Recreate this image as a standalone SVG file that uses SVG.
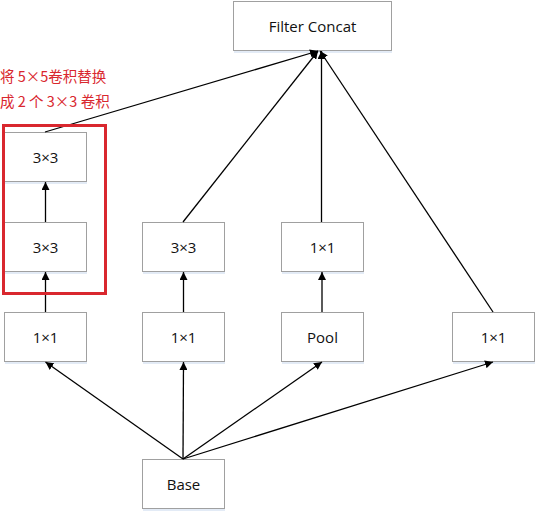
<svg xmlns="http://www.w3.org/2000/svg" width="539" height="515" viewBox="0 0 539 515">
<style>
.box{fill:#fff;stroke:#a0a0a0;stroke-width:1}
.sh{fill:#e3ebf6}
.lbl{font-family:"Open Sans","Liberation Sans",sans-serif;font-size:15px;fill:#111;text-anchor:middle;dominant-baseline:central}
.edge{stroke:#000;stroke-width:1.3;fill:none;marker-end:url(#ah)}
.note{font-family:"Noto Sans CJK SC","Liberation Sans",sans-serif;font-size:14.5px;fill:#d9272e}
</style>
<defs>
<marker id="ah" viewBox="0 0 10 10" refX="10" refY="5" markerWidth="8" markerHeight="8" markerUnits="userSpaceOnUse" orient="auto">
<path d="M0,0 L10,5 L0,10 z" fill="#000"/>
</marker>
</defs>
<rect width="539" height="515" fill="#fff"/>
<g id="n-concat"><rect class="sh" x="234" y="50" width="158" height="3"/><rect class="box" x="233.5" y="1.5" width="158" height="49"/><text class="lbl" x="312.5" y="26">Filter Concat</text></g>
<g id="n-c1-top"><rect class="sh" x="5" y="181" width="82" height="3"/><rect class="box" x="4.5" y="132.5" width="82" height="49"/><text class="lbl" x="45.5" y="157">3×3</text></g>
<g id="n-c1-mid"><rect class="sh" x="5" y="271" width="82" height="3"/><rect class="box" x="4.5" y="222.5" width="82" height="49"/><text class="lbl" x="45.5" y="247">3×3</text></g>
<g id="n-c1-bot"><rect class="sh" x="5" y="361" width="82" height="3"/><rect class="box" x="4.5" y="312.5" width="82" height="49"/><text class="lbl" x="45.5" y="337">1×1</text></g>
<g id="n-c2-top"><rect class="sh" x="143" y="271" width="82" height="3"/><rect class="box" x="142.5" y="222.5" width="82" height="49"/><text class="lbl" x="183.5" y="247">3×3</text></g>
<g id="n-c2-bot"><rect class="sh" x="143" y="361" width="82" height="3"/><rect class="box" x="142.5" y="312.5" width="82" height="49"/><text class="lbl" x="183.5" y="337">1×1</text></g>
<g id="n-c3-top"><rect class="sh" x="282" y="271" width="82" height="3"/><rect class="box" x="281.5" y="222.5" width="82" height="49"/><text class="lbl" x="322.5" y="247">1×1</text></g>
<g id="n-c3-pool"><rect class="sh" x="282" y="361" width="82" height="3"/><rect class="box" x="281.5" y="312.5" width="82" height="49"/><text class="lbl" x="322.5" y="337">Pool</text></g>
<g id="n-c4"><rect class="sh" x="453" y="361" width="82" height="3"/><rect class="box" x="452.5" y="312.5" width="82" height="49"/><text class="lbl" x="493.5" y="337">1×1</text></g>
<g id="n-base"><rect class="sh" x="143" y="508" width="82" height="3"/><rect class="box" x="142.5" y="459.5" width="82" height="49"/><text class="lbl" x="183.5" y="484">Base</text></g>
<g id="connectors">
<line class="edge" x1="183" y1="459" x2="45.5" y2="362"/>
<line class="edge" x1="183" y1="459" x2="183.5" y2="362"/>
<line class="edge" x1="183" y1="459" x2="322" y2="362"/>
<line class="edge" x1="183" y1="459" x2="493" y2="362"/>
<line class="edge" x1="45.5" y1="312" x2="45.5" y2="272"/>
<line class="edge" x1="45.5" y1="222" x2="45.5" y2="182"/>
<line class="edge" x1="183.5" y1="312" x2="183.5" y2="272"/>
<line class="edge" x1="322" y1="312" x2="322" y2="272"/>
<line class="edge" x1="45" y1="132" x2="318" y2="51"/>
<line class="edge" x1="183" y1="222" x2="318" y2="51"/>
<line class="edge" x1="321.5" y1="222" x2="321.5" y2="51"/>
<line class="edge" x1="493" y1="312" x2="320" y2="51"/>
</g>
<g id="annotation">
<rect x="3.5" y="125.5" width="102" height="168" fill="none" stroke="#d9272e" stroke-width="3"/>
<text class="note" x="0" y="82">将 5×5卷积替换</text>
<text class="note" x="0" y="107">成 2 个 3×3 卷积</text>
</g>
</svg>
